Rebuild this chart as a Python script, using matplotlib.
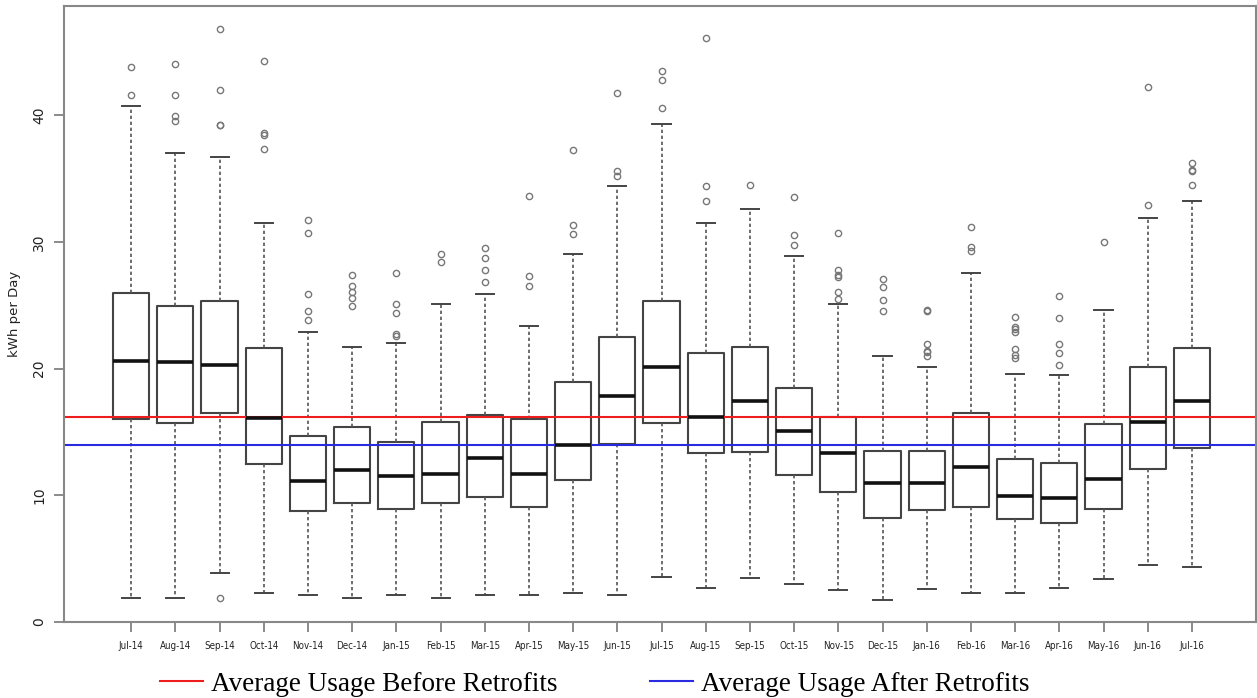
import matplotlib
matplotlib.use("Agg")
from matplotlib import pyplot as plt

months = ["Jul-14", "Aug-14", "Sep-14", "Oct-14", "Nov-14", "Dec-14", "Jan-15", "Feb-15",
          "Mar-15", "Apr-15", "May-15", "Jun-15", "Jul-15", "Aug-15", "Sep-15", "Oct-15",
          "Nov-15", "Dec-15", "Jan-16", "Feb-16", "Mar-16", "Apr-16", "May-16", "Jun-16", "Jul-16"]

# box statistics (kWh per day)
whisker_low = [1.9, 1.9, 3.9, 2.3, 2.1, 1.9, 2.1, 1.9, 2.1, 2.1, 2.3, 2.1, 3.55, 2.7, 3.5, 3.0,
               2.5, 1.75, 2.6, 2.3, 2.3, 2.7, 3.4, 4.5, 4.35]
q1 = [16.05, 15.7, 16.5, 12.5, 8.75, 9.35, 8.9, 9.35, 9.85, 9.05, 11.2, 14.05, 15.7, 13.3, 13.45,
      11.6, 10.25, 8.2, 8.8, 9.05, 8.15, 7.8, 8.95, 12.05, 13.7]
medians = [20.6, 20.5, 20.3, 16.1, 11.1, 12.0, 11.55, 11.7, 12.9, 11.7, 13.95, 17.8, 20.15, 16.2,
           17.4, 15.1, 13.35, 11.0, 11.0, 12.2, 9.95, 9.75, 11.3, 15.8, 17.45]
q3 = [25.95, 24.95, 25.35, 21.6, 14.7, 15.4, 14.2, 15.75, 16.35, 16.0, 18.9, 22.5, 25.3, 21.2,
      21.7, 18.45, 16.15, 13.5, 13.5, 16.5, 12.85, 12.55, 15.65, 20.1, 21.65]
whisker_high = [40.7, 37.0, 36.7, 31.5, 22.9, 21.7, 22.0, 25.05, 25.85, 23.35, 29.0, 34.4, 39.3,
                31.5, 32.6, 28.85, 25.1, 21.0, 20.15, 27.5, 19.55, 19.45, 24.65, 31.85, 33.25]
outliers = [
    [41.6, 43.8],
    [39.5, 39.9, 41.6, 44.0],
    [1.9, 39.2, 39.25, 42.0, 46.8],
    [37.3, 38.45, 38.55, 44.3],
    [23.8, 24.5, 25.85, 30.7, 31.7],
    [24.95, 25.6, 26.0, 26.5, 27.4],
    [22.6, 22.75, 24.35, 25.1, 27.5],
    [28.4, 29.0],
    [26.8, 27.8, 28.7, 29.5],
    [26.5, 27.3, 33.6],
    [30.6, 31.3, 37.25],
    [35.2, 35.6, 41.7],
    [40.55, 42.8, 43.5],
    [33.2, 34.4, 46.1],
    [34.5],
    [29.75, 30.5, 33.5],
    [25.5, 26.0, 27.25, 27.35, 27.8, 30.7],
    [24.5, 25.4, 26.45, 27.1],
    [21.0, 21.3, 21.4, 21.9, 24.55, 24.65],
    [29.25, 29.6, 31.2],
    [20.8, 21.1, 21.5, 22.9, 23.1, 23.25, 24.1],
    [20.3, 21.25, 21.9, 24.0, 25.7],
    [30.0],
    [32.9, 42.2],
    [34.45, 35.55, 35.7, 36.2],
]

avg_before = 16.2
avg_after = 14.0

fig = plt.figure(figsize=(12.57, 6.98), dpi=100)
ax = fig.add_axes([64 / 1257, 76 / 698, 1192 / 1257, 616 / 698])

stats = []
for i, m in enumerate(months):
    stats.append({"label": m, "whislo": whisker_low[i], "q1": q1[i], "med": medians[i],
                  "q3": q3[i], "whishi": whisker_high[i], "fliers": outliers[i]})

pos = list(range(1, len(months) + 1))
ax.bxp(stats, positions=pos, widths=0.82, showfliers=True,
       boxprops=dict(color="#444444", linewidth=1.5),
       medianprops=dict(color="#111111", linewidth=2.6),
       whiskerprops=dict(color="#555555", linewidth=1.2, linestyle=(0, (2.0, 1.6))),
       capprops=dict(color="#444444", linewidth=1.4),
       flierprops=dict(marker="o", markersize=4.5, markerfacecolor="none",
                       markeredgecolor="#777777", markeredgewidth=1.0))

l1 = ax.axhline(avg_before, color="#ee1c1c", linewidth=1.5, label="Average Usage Before Retrofits")
l2 = ax.axhline(avg_after, color="#2a2ae0", linewidth=1.5, label="Average Usage After Retrofits")

ax.set_xlim(-0.52, 26.45)
ax.set_ylim(0, 48.6)
ax.set_yticks([0, 10, 20, 30, 40])
ax.set_yticklabels(["0", "10", "20", "30", "40"], rotation=90, va="center", fontsize=10,
                   color="#222222")
ax.set_xticks(pos)
ax.set_xticklabels(months, fontsize=7, family=["DejaVu Sans"], fontstretch="condensed",
                   color="#222222")
ax.tick_params(axis="both", direction="out", length=7, color="#777777", width=1.2)
ax.tick_params(axis="x", pad=7)
ax.tick_params(axis="y", pad=6)
ax.set_ylabel("kWh per Day", fontsize=9.5, labelpad=8, color="#222222")
for s in ax.spines.values():
    s.set_color("#888888")
    s.set_linewidth(1.5)

fig.legend(handles=[l1, l2], loc="center", bbox_to_anchor=(0.473, 0.02), ncol=2,
           frameon=False, prop={"family": "Liberation Serif", "size": 19.5},
           handlelength=1.6, handletextpad=0.3, columnspacing=3.4)

fig.savefig("out.png", dpi=100)
